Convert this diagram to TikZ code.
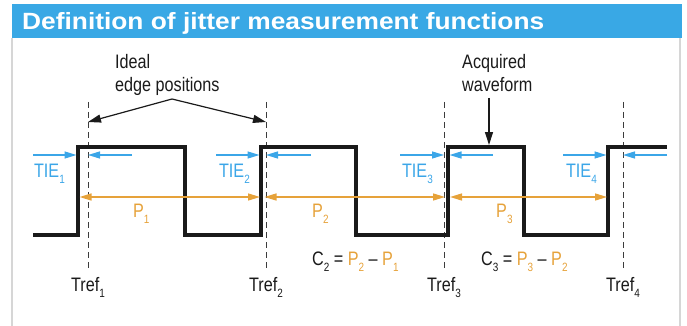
\documentclass[tikz,border=0pt]{standalone}
\usepackage{fontspec}
\setmainfont{Liberation Sans}[FakeStretch=0.83]
\newfontfamily\titlefont{Liberation Sans}[FakeStretch=1.12]
\usetikzlibrary{arrows.meta}
\definecolor{titleblue}{RGB}{57,168,229}
\definecolor{tieblue}{RGB}{59,166,232}
\definecolor{perorange}{RGB}{230,162,58}
\definecolor{ink}{RGB}{26,26,26}
\definecolor{framegray}{RGB}{214,214,214}
\newcommand\subs[1]{\raisebox{-6pt}{\fontsize{12}{12}\selectfont #1}}
\newcommand\Po[1]{\textcolor{perorange}{P\subs{#1}}}
\begin{document}
\begin{tikzpicture}[x=1pt,y=-1pt,
  lbl/.style={inner sep=0pt, font=\fontsize{19.5}{23}\selectfont, text=ink},
  tielbl/.style={lbl, text=tieblue, anchor=base east},
  perlbl/.style={lbl, text=perorange, anchor=base west},
  treflbl/.style={lbl, anchor=base},
  wave/.style={line width=3.3pt, draw=ink, line join=miter},
  idealline/.style={draw=ink!85, line width=1pt, dash pattern=on 6pt off 4pt},
  tiearr/.style={draw=tieblue, line width=1.3pt, -{Triangle[length=12pt,width=7pt]}},
  perarr/.style={draw=perorange, line width=1.4pt, {Triangle[length=12pt,width=7pt]}-{Triangle[length=12pt,width=7pt]}},
  callout/.style={draw=ink, line width=1.2pt, -{Triangle[length=13pt,width=8pt]}}
]
\useasboundingbox (0,0) rectangle (687,326);
% frame and title
\draw[framegray, line width=2pt] (12,38) -- (12,326);
\draw[framegray, line width=2pt] (680,38) -- (680,326);
\fill[titleblue] (12,4) rectangle (682,38);
\node[anchor=base west, inner sep=0pt, text=white, font=\titlefont\bfseries\fontsize{23.5}{26}\selectfont] (title) at (22,30) {Definition of jitter measurement functions};

% ideal edge positions (dashed)
\foreach \i/\x in {1/88, 2/266, 3/444, 4/623}{
  \coordinate (it\i) at (\x,102);
  \coordinate (ib\i) at (\x,270);
  \draw[idealline] (it\i) -- (ib\i);
  \node[treflbl] (tref\i) at (\x,291) {Tref\subs{\i}};
}

% waveform
\draw[wave] (33,235) -- (78,235) -- (78,147) -- (185,147) -- (185,235) -- (261,235) -- (261,147)
  -- (356,147) -- (356,235) -- (448,235) -- (448,147) -- (524,147) -- (524,235) -- (608,235)
  -- (608,147) -- (667,147);

% TIE arrows
\coordinate (ta1) at (33,155);  \coordinate (tb1) at (76.5,155);
\coordinate (tc1) at (132,155); \coordinate (td1) at (88,155);
\coordinate (ta2) at (216,155); \coordinate (tb2) at (259.5,155);
\coordinate (tc2) at (311,155); \coordinate (td2) at (266,155);
\coordinate (ta3) at (400,155); \coordinate (tb3) at (444,155);
\coordinate (tc3) at (493,155); \coordinate (td3) at (449.5,155);
\coordinate (ta4) at (563,155); \coordinate (tb4) at (606.5,155);
\coordinate (tc4) at (667,155); \coordinate (td4) at (623,155);
\foreach \i in {1,2,3,4}{
  \draw[tiearr] (ta\i) -- (tb\i);
  \draw[tiearr] (tc\i) -- (td\i);
}
\node[tielbl] (tie1) at (65,177) {TIE\subs{1}};
\node[tielbl] (tie2) at (250,177) {TIE\subs{2}};
\node[tielbl] (tie3) at (433,177) {TIE\subs{3}};
\node[tielbl] (tie4) at (597,177) {TIE\subs{4}};

% period arrows
\coordinate (pa1) at (79.5,197);  \coordinate (pb1) at (260,197);
\coordinate (pa2) at (264.5,197); \coordinate (pb2) at (445,197);
\coordinate (pa3) at (450,197);   \coordinate (pb3) at (607,197);
\foreach \i in {1,2,3}{
  \draw[perarr] (pa\i) -- (pb\i);
}
\node[perlbl] (p1) at (133,217) {P\subs{1}};
\node[perlbl] (p2) at (312,217) {P\subs{2}};
\node[perlbl] (p3) at (496,217) {P\subs{3}};

% cycle-to-cycle
\node[lbl, anchor=base west] (c2) at (312,265) {C\subs{2} = \Po{2} – \Po{1}};
\node[lbl, anchor=base west] (c3) at (481,265) {C\subs{3} = \Po{3} – \Po{2}};

% callouts
\node[lbl, anchor=north west, align=left] (ideal) at (115,54) {Ideal\\edge positions};
\coordinate (apex) at (172,99);
\coordinate (itip1) at (88,122);
\coordinate (itip2) at (266,122);
\draw[callout] (apex) -- (itip1);
\draw[callout] (apex) -- (itip2);

\node[lbl, anchor=north west, align=left] (acq) at (462,54) {Acquired\\waveform};
\coordinate (aq1) at (489,98);
\coordinate (aq2) at (489,145);
\draw[callout] (aq1) -- (aq2);
\end{tikzpicture}
\end{document}
